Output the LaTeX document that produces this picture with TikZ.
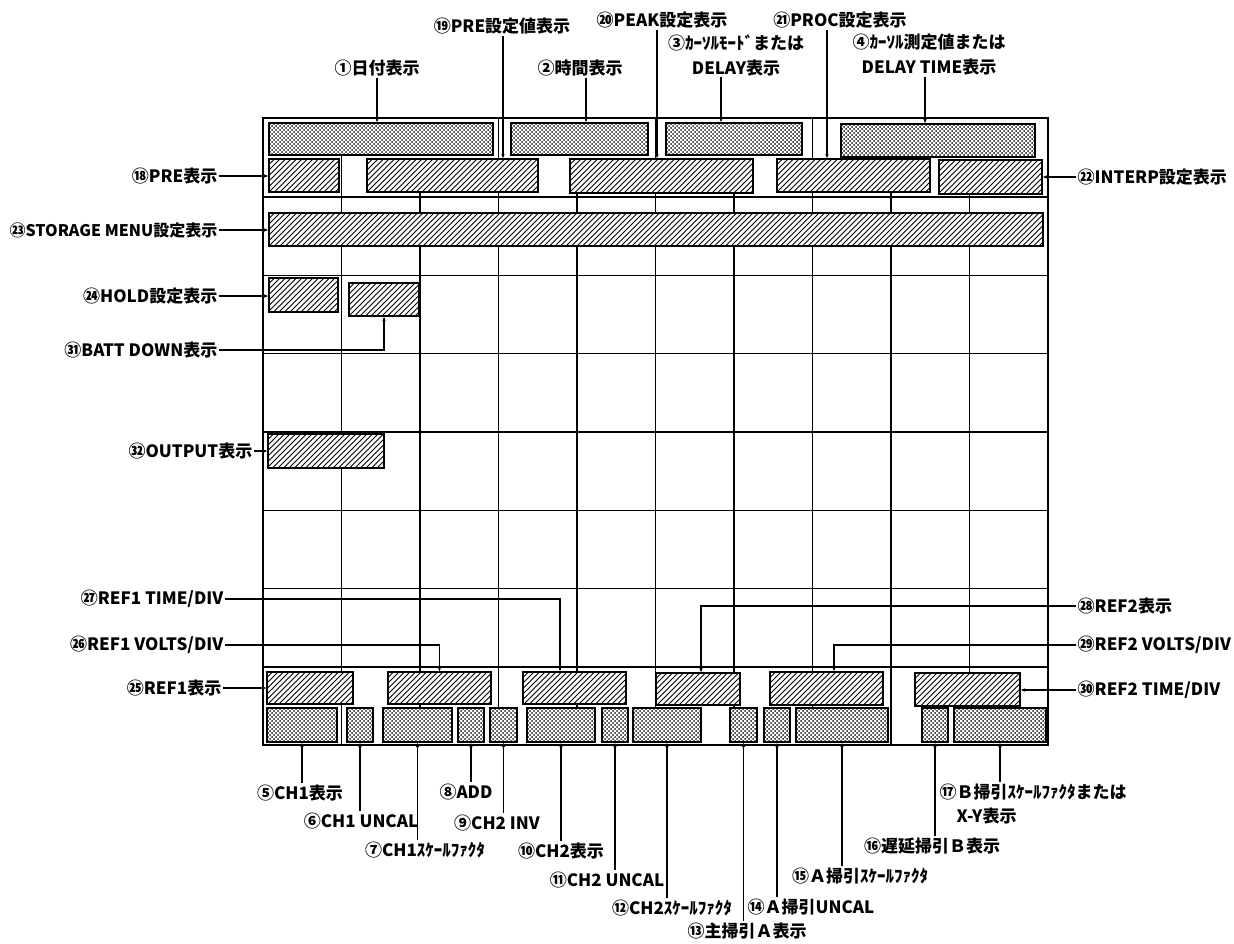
\documentclass[tikz,border=0pt]{standalone}
\usepackage{fontspec}
\setmainfont{Noto Sans CJK JP}
\usetikzlibrary{arrows.meta,calc}
\tikzset{
 x=1pt,y=-1pt,
 gridl/.style={line width=1.1pt},
 framel/.style={line width=1.4pt},
 boxb/.style={draw, line width=1.6pt, inner sep=0pt, outer sep=0pt, anchor=north west},
 hatl/.style={line width=0.95pt},
 dotl/.style={line width=1.7pt, line cap=round, dash pattern=on 0.1pt off 3.9pt},
 ld/.style={line width=1.1pt, -{Latex[length=5pt,width=3.5pt]}},
 ldr/.style={line width=1.1pt, {Latex[length=5pt,width=3.5pt]}-},
 lbl/.style={inner sep=1.5pt, font=\fontsize{17}{25}\selectfont\bfseries},
}
\def\dotlist{269/123/493/155/date, 511/123/648/155/time,
 666/123/802/155/curmode, 841/124/1035/157/curval,
 267/708/337/742/ch1, 347/708/373/742/chau,
 383/708/452/742/chas, 458/708/484/742/add,
 490/708/517/742/inv, 527/708/595/742/ch2,
 602/708/628/742/chbu, 633/708/701/742/chbs,
 730/708/757/742/mainA, 764/708/790/742/aunc,
 796/708/888/742/asf, 922/708/948/742/delB,
 954/708/1046/742/bsf}
\def\hatlist{269/159/339/192/pre, 367/159/538/192/preset,
 570/159/753/193/peak, 777/159/930/192/proc,
 939/160/1042/194/interp, 269/213/1043/246/storage,
 269/278/338/312/hold, 349/283/419/316/batt,
 268/434/384/468/output,
 267/672/353/704/refa, 388/672/491/704/refav,
 523/672/626/704/refat, 656/673/740/705/refb,
 770/672/883/705/refbv, 915/673/1020/706/refbt}
\begin{document}
\begin{tikzpicture}
\useasboundingbox[fill=white] (0,0) rectangle (1234,943);
% grid: horizontal lines, and vertical segments only where no box lies
\foreach \yy in {197,275.3,353.7,432,510.3,588.7,667} \draw[gridl] (263,\yy) -- (1048,\yy);
\foreach \xx/\ya/\yb in {341.5/155/213, 341.5/246/434, 341.5/468/672, 341.5/704/745,
  420/193/213, 420/246/672, 420/704/708,
  498.5/118/159, 498.5/193/213, 498.5/246/708,
  577/193/213, 577/246/672, 577/704/708,
  655.5/118/159, 655.5/193/213, 655.5/246/708,
  734/193/213, 734/246/672, 734/704/708,
  812.5/118/159, 812.5/193/213, 812.5/246/672, 812.5/704/708,
  891/193/213, 891/246/745,
  969.5/193/213, 969.5/246/672, 969.5/704/708}
  \draw[gridl] (\xx,\ya) -- (\xx,\yb);
\draw[framel] (263,118) rectangle (1048,745);
% hatched boxes
\foreach \xa/\ya/\xb/\yb/\nm in \hatlist {
  \fill[white] (\xa,\ya) rectangle (\xb,\yb);
  \begin{scope}
    \clip (\xa,\ya) rectangle (\xb,\yb);
    \pgfmathtruncatemacro\nlines{((\xb)-(\xa)+(\yb)-(\ya))/5.5+1}
    \foreach \s in {0,...,\nlines}
      \draw[hatl] ({\xa+5.5*\s-(\yb-\ya)},\yb) -- ++({\yb-\ya},{-(\yb-\ya)});
  \end{scope}
  \node[boxb, minimum width={(\xb)-(\xa)}, minimum height={(\yb)-(\ya)}] (\nm) at (\xa,\ya) {};
}
% dotted boxes
\foreach \xa/\ya/\xb/\yb/\nm in \dotlist {
  \fill[white] (\xa,\ya) rectangle (\xb,\yb);
  \begin{scope}
    \clip (\xa,\ya) rectangle (\xb,\yb);
    \pgfmathtruncatemacro\nr{((\yb)-(\ya))/2}
    \foreach \r in {0,...,\nr} {
      \pgfmathsetmacro\xs{\xa+1+2*mod(\r,2)}
      \draw[dotl] (\xs,{\ya+1+2*\r}) -- (\xb,{\ya+1+2*\r});
    }
  \end{scope}
  \node[boxb, minimum width={(\xb)-(\xa)}, minimum height={(\yb)-(\ya)}] (\nm) at (\xa,\ya) {};
}
% top labels
\node[lbl] (l1) at (377,68) {①日付表示};
\node[lbl] (l19) at (502,26) {⑲PRE設定値表示};
\node[lbl] (l2) at (580,68) {②時間表示};
\node[lbl] (l20) at (662,20) {⑳PEAK設定表示};
\node[lbl, align=center] (l3) at (736,55) {③ｶｰｿﾙﾓｰﾄﾞまたは\\DELAY表示};
\node[lbl] (l21) at (840,20) {㉑PROC設定表示};
\node[lbl, align=center] (l4) at (929,55) {④ｶｰｿﾙ測定値または\\DELAY TIME表示};
\node[lbl, anchor=west] (l22) at (1076,177) {㉒INTERP設定表示};
% left labels
\node[lbl, anchor=east] (l18) at (219,176) {⑱PRE表示};
\node[lbl, anchor=east, font=\fontsize{16}{20}\selectfont\bfseries] (l23) at (219,230) {㉓STORAGE MENU設定表示};
\node[lbl, anchor=east] (l24) at (219,296) {㉔HOLD設定表示};
\node[lbl, anchor=east] (l31) at (219,350) {㉛BATT DOWN表示};
\node[lbl, anchor=east] (l32) at (254,451) {㉜OUTPUT表示};
\node[lbl, anchor=east] (l27) at (225,599) {㉗REF1 TIME/DIV};
\node[lbl, anchor=east] (l26) at (225,645) {㉖REF1 VOLTS/DIV};
\node[lbl, anchor=east] (l25) at (223,688) {㉕REF1表示};
% right labels
\node[lbl, anchor=west] (l28) at (1076,606) {㉘REF2表示};
\node[lbl, anchor=west] (l29) at (1076,645) {㉙REF2 VOLTS/DIV};
\node[lbl, anchor=west] (l30) at (1076,690) {㉚REF2 TIME/DIV};
% bottom labels
\node[lbl] (l5) at (300,793) {⑤CH1表示};
\node[lbl] (l6) at (361,821) {⑥CH1 UNCAL};
\node[lbl] (l7) at (425,850) {⑦CH1ｽｹｰﾙﾌｧｸﾀ};
\node[lbl] (l8) at (466,792) {⑧ADD};
\node[lbl] (l9) at (497,823) {⑨CH2 INV};
\node[lbl] (l10) at (561,851) {⑩CH2表示};
\node[lbl] (l11) at (607,880) {⑪CH2 UNCAL};
\node[lbl] (l12) at (672,908) {⑫CH2ｽｹｰﾙﾌｧｸﾀ};
\node[lbl] (l13) at (747,931) {⑬主掃引Ａ表示};
\node[lbl] (l14) at (811,907) {⑭Ａ掃引UNCAL};
\node[lbl] (l15) at (860,876) {⑮Ａ掃引ｽｹｰﾙﾌｧｸﾀ};
\node[lbl] (l16) at (932,846) {⑯遅延掃引Ｂ表示};
\node[lbl, anchor=north west, align=left, font=\fontsize{17}{24}\selectfont\bfseries] (l17) at (938,782) {⑰Ｂ掃引ｽｹｰﾙﾌｧｸﾀまたは\\\hspace*{1em}X-Y表示};
% top leaders
\draw[ld] (l1.south) -- (l1.south |- date.north);
\draw[ld] (503,0 |- l19.south) -- (503,0 |- preset.north);
\draw[ld] (586,0 |- l2.south) -- (586,0 |- time.north);
\draw[ld] (657,0 |- l20.south) -- (657,0 |- peak.north);
\draw[ld] (721,0 |- l3.south) -- (721,0 |- curmode.north);
\draw[ld] (827,0 |- l21.south) -- (827,0 |- proc.north);
\draw[ld] (925,0 |- l4.south) -- (925,0 |- curval.north);
\draw[ld] (l22.west) -- (l22.west -| interp.east);
% left leaders
\draw[ld] (l18.east) -- (l18.east -| pre.west);
\draw[ld] (l23.east) -- (l23.east -| storage.west);
\draw[ld] (l24.east) -- (l24.east -| hold.west);
\draw[ld] (l31.east) -| (batt.south);
\draw[ld] (l32.east) -- (l32.east -| output.west);
\draw[ld] (l27.east) -| (560,0 |- refat.north);
\draw[ld] (l26.east) -| (refav.north);
\draw[ld] (l25.east) -- (l25.east -| refa.west);
% right leaders
\draw[ld] (l28.west) -| (701,0 |- refb.north);
\draw[ld] (l29.west) -| (834,0 |- refbv.north);
\draw[ld] (l30.west) -- (l30.west -| refbt.east);
% bottom leaders
\draw[ldr] (ch1.south) -- (ch1.south |- l5.north);
\draw[ldr] (chau.south) -- (chau.south |- l6.north);
\draw[ldr] (chas.south) -- (chas.south |- l7.north);
\draw[ldr] (add.south) -- (add.south |- l8.north);
\draw[ldr] (inv.south) -- (inv.south |- l9.north);
\draw[ldr] (ch2.south) -- (ch2.south |- l10.north);
\draw[ldr] (chbu.south) -- (chbu.south |- l11.north);
\draw[ldr] (chbs.south) -- (chbs.south |- l12.north);
\draw[ldr] (mainA.south) -- (mainA.south |- l13.north);
\draw[ldr] (aunc.south) -- (aunc.south |- l14.north);
\draw[ldr] (asf.south) -- (asf.south |- l15.north);
\draw[ldr] (delB.south) -- (delB.south |- l16.north);
\draw[ldr] (bsf.south) -- (bsf.south |- l17.north);
\end{tikzpicture}
\end{document}
